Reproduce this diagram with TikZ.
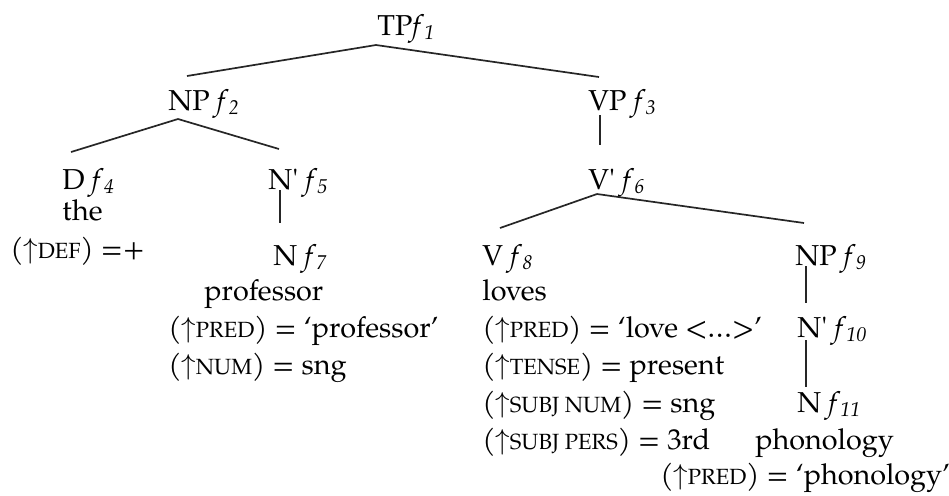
\documentclass[tikz,border=0pt]{standalone}
\usepackage{fontspec}
\setmainfont{TeX Gyre Pagella}
\usetikzlibrary{calc}
\newcommand{\up}{$\uparrow$}
\newcommand{\smc}[1]{{\fontsize{11}{13}\selectfont #1}}
\newcommand{\fsub}[1]{\textit{f}\textsubscript{\textit{#1}}}
\tikzset{
  lbl/.style={anchor=base west, inner sep=0pt, font=\fontsize{14.4}{17}\selectfont, text=black},
  edge/.style={line width=0.85pt, draw=black!85}
}
\begin{document}
\begin{tikzpicture}[x=0.5pt,y=-0.5pt]
\useasboundingbox (0,0) rectangle (949,495);
% category nodes
\node[lbl] (tp)  at (377,35)  {TP\fsub{1}};
\node[lbl] (np2) at (168,110) {NP \fsub{2}};
\node[lbl] (vp3) at (588,110) {VP \fsub{3}};
\node[lbl] (d4)  at (62,189)  {D \fsub{4}};
\node[lbl] (nb5) at (268,189) {N\textquotesingle\ \fsub{5}};
\node[lbl] (vb6) at (588,189) {V\textquotesingle\ \fsub{6}};
\node[lbl] (n7)  at (273,265) {N \fsub{7}};
\node[lbl] (v8)  at (482,265) {V \fsub{8}};
\node[lbl] (np9) at (795,265) {NP \fsub{9}};
\node[lbl] (nb10) at (797,337) {N\textquotesingle\ \fsub{10}};
\node[lbl] (n11) at (797,412) {N \fsub{11}};
% words and equations
\node[lbl] (the) at (62,220) {the};
\node[lbl] (def) at (10,258) {(\up\smc{DEF}) =+};
\node[lbl] (prof) at (204,300) {professor};
\node[lbl] (predp) at (168,337) {(\up\smc{PRED}) = ‘professor’};
\node[lbl] (nump) at (168,374) {(\up\smc{NUM}) = sng};
\node[lbl] (loves) at (482,300) {loves};
\node[lbl] (predl) at (482,337) {(\up\smc{PRED}) = ‘love <…>’};
\node[lbl] (tense) at (482,374) {(\up\smc{TENSE}) = present};
\node[lbl] (snum) at (482,412) {(\up\smc{SUBJ NUM}) = sng};
\node[lbl] (spers) at (482,449) {(\up\smc{SUBJ PERS}) = 3rd};
\node[lbl] (phon) at (755,449) {phonology};
\node[lbl] (predph) at (660,484) {(\up\smc{PRED}) = ‘phonology’};
% connectors
\draw[edge] ($(tp.base west)+(-1,10)$) -- ($(np2.base west)+(19,-34)$);
\draw[edge] ($(tp.base west)+(-1,10)$) -- ($(vp3.base west)+(11,-33)$);
\draw[edge] ($(np2.base west)+(10,9)$) -- ($(d4.base west)+(9,-37)$);
\draw[edge] ($(np2.base west)+(10,9)$) -- ($(nb5.base west)+(11,-40)$);
\draw[edge] ($(nb5.base west)+(12,1)$) -- ($(n7.base west)+(7,-42)$);
\draw[edge] ($(vp3.base west)+(12,5)$) -- ($(vb6.base west)+(12,-44)$);
\draw[edge] ($(vb6.base west)+(9,5)$) -- ($(v8.base west)+(18,-37)$);
\draw[edge] ($(vb6.base west)+(9,5)$) -- ($(np9.base west)+(9,-42)$);
\draw[edge] ($(np9.base west)+(11,1)$) -- ($(nb10.base west)+(9,-34)$);
\draw[edge] ($(nb10.base west)+(9,3)$) -- ($(n11.base west)+(9,-25)$);
\end{tikzpicture}
\end{document}
